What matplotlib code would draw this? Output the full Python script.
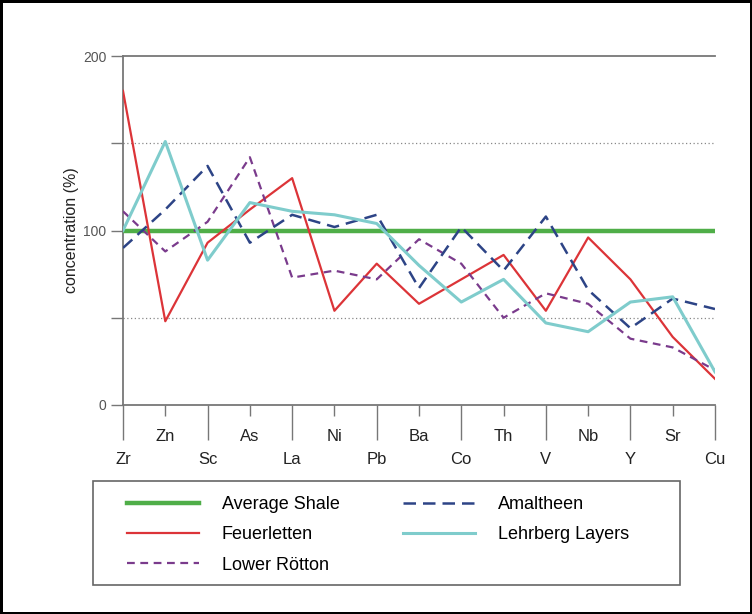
import matplotlib.pyplot as plt
import numpy as np
from matplotlib.patches import Rectangle

plt.rcParams['font.family'] = ['Liberation Sans', 'DejaVu Sans']

elements = ['Zr', 'Zn', 'Sc', 'As', 'La', 'Ni', 'Pb', 'Ba', 'Co', 'Th', 'V', 'Nb', 'Y', 'Sr', 'Cu']

average_shale = [100] * 15
amaltheen = [90, 112, 137, 93, 109, 102, 109, 67, 102, 77, 108, 66, 44, 61, 55]
feuerletten = [180, 48, 93, 112, 130, 54, 81, 58, 72, 86, 54, 96, 72, 39, 15]
lehrberg = [100, 151, 83, 116, 111, 109, 104, 80, 59, 72, 47, 42, 59, 62, 19]
lower_roetton = [111, 88, 105, 142, 73, 77, 72, 95, 81, 50, 64, 58, 38, 33, 20]

x = np.arange(len(elements))

fig = plt.figure(figsize=(7.52, 6.14), dpi=100, edgecolor='black', linewidth=2.5)
ax = fig.add_axes([123 / 752, 1 - 405 / 614, (715 - 123) / 752, (405 - 56) / 614])

h_avg, = ax.plot(x, average_shale, color='#4fae48', lw=3.2, label='Average Shale', zorder=3)
h_fe, = ax.plot(x, feuerletten, color='#dc3438', lw=1.6, label='Feuerletten', zorder=4)
h_lr, = ax.plot(x, lower_roetton, color='#7a3b8c', lw=1.6, ls=(0, (3.5, 2.5)), label='Lower Rötton', zorder=4)
h_am, = ax.plot(x, amaltheen, color='#2d4486', lw=1.8, ls=(0, (5, 2.8)), label='Amaltheen', zorder=4)
h_le, = ax.plot(x, lehrberg, color='#7fcccc', lw=2.2, label='Lehrberg Layers', zorder=4)

for yv in [50, 150]:
    ax.axhline(yv, color='#888888', lw=0.9, ls=(0, (1, 2)), zorder=1)

ax.set_xlim(0, 14)
ax.set_ylim(0, 200)

spine_col = '#777777'
ax.spines['right'].set_visible(False)
for s in ['top', 'left', 'bottom']:
    ax.spines[s].set_color(spine_col)
    ax.spines[s].set_linewidth(1.3)

# alternating two-row x labels
ax.set_xticks(x[::2])
ax.set_xticklabels(elements[::2])
ax.set_xticks(x[1::2], minor=True)
ax.set_xticklabels(elements[1::2], minor=True)
ax.tick_params(axis='x', which='major', length=25, width=1, color=spine_col,
               pad=9, labelsize=12, labelcolor='#222222')
ax.tick_params(axis='x', which='minor', length=8, width=1, color=spine_col,
               pad=9, labelsize=12, labelcolor='#222222')

ax.set_yticks([0, 100, 200])
ax.set_yticks([50, 150], minor=True)
ax.tick_params(axis='y', which='both', length=9, width=1, color=spine_col,
               pad=3, labelsize=10, labelcolor='#555555')
ax.set_ylabel('concentration (%)', fontsize=11.5, color='#222222', labelpad=3)

# legend frame and two columns
fig.patches.append(Rectangle((93 / 752, 1 - 585 / 614), (680 - 93) / 752, (585 - 481) / 614,
                             transform=fig.transFigure, fill=False, edgecolor='#666666', lw=1.2))
leg_kw = dict(loc='upper left', fontsize=13, frameon=False, handlelength=4.0,
              handletextpad=1.25, labelspacing=0.74, borderpad=0, borderaxespad=0)
fig.legend(handles=[h_avg, h_fe, h_lr], bbox_to_anchor=(127 / 752, 1 - 496 / 614), **leg_kw)
fig.legend(handles=[h_am, h_le], bbox_to_anchor=(403 / 752, 1 - 496 / 614), **leg_kw)

fig.savefig('out.png', dpi=100)
